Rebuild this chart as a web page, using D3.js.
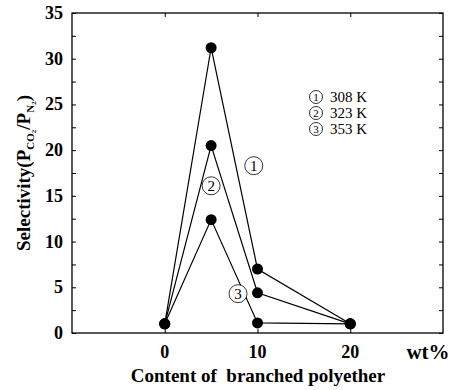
<!DOCTYPE html>
<html>
<head>
<meta charset="utf-8">
<script src="https://cdn.jsdelivr.net/npm/d3@7"></script>
<style>
body { margin: 0; background: #fff; }
</style>
</head>
<body>
<div id="chart"></div>
<script>
let width = 460;
let height = 390;
let margin = { top: 13, right: 17, bottom: 57, left: 72 };

let content = [0, 5, 10, 20];
let sel308 = [1.0, 31.2, 7.0, 1.0];
let sel323 = [1.0, 20.5, 4.4, 1.0];
let sel353 = [1.0, 12.4, 1.1, 1.0];
let seriesNums = ["1", "2", "3"];
let temps = ["308 K", "323 K", "353 K"];
let xTicks = [0, 10, 20];
let yTicks = [0, 5, 10, 15, 20, 25, 30, 35];

let serif = "Times New Roman";

let svg = d3.select("#chart").append("svg")
    .attr("width", width)
    .attr("height", height);

let x = d3.scaleLinear().domain([-10, 30]).range([margin.left, width - margin.right]);
let y = d3.scaleLinear().domain([0, 35]).range([height - margin.bottom, margin.top]);

// frame
svg.append("rect")
    .attr("x", x(-10)).attr("y", y(35))
    .attr("width", x(30) - x(-10)).attr("height", y(0) - y(35))
    .attr("fill", "none").attr("stroke", "#000").attr("stroke-width", 1.3);

// inward ticks on all four sides
let yMinor = d3.range(0, 35.1, 2.5);
svg.append("g")
    .attr("transform", `translate(${x(-10)},0)`)
    .call(d3.axisRight(y).tickValues(yMinor).tickSize(4).tickFormat(""))
    .call(g => g.select(".domain").remove());
svg.append("g")
    .attr("transform", `translate(${x(30)},0)`)
    .call(d3.axisLeft(y).tickValues(yMinor).tickSize(4).tickFormat(""))
    .call(g => g.select(".domain").remove());
svg.append("g")
    .attr("transform", `translate(0,${y(0)})`)
    .call(d3.axisTop(x).tickValues(xTicks).tickSize(4).tickFormat(""))
    .call(g => g.select(".domain").remove());
svg.append("g")
    .attr("transform", `translate(0,${y(35)})`)
    .call(d3.axisBottom(x).tickValues(xTicks).tickSize(4).tickFormat(""))
    .call(g => g.select(".domain").remove());

// tick labels
svg.append("g").selectAll("text")
    .data(yTicks).enter().append("text")
    .attr("x", x(-10) - 9)
    .attr("y", d => y(d) + 6)
    .attr("text-anchor", "end")
    .attr("font-family", serif)
    .attr("font-size", 18).attr("font-weight", "bold")
    .text(d => d);
svg.append("g").selectAll("text")
    .data(xTicks).enter().append("text")
    .attr("x", d => x(d))
    .attr("y", y(0) + 25)
    .attr("text-anchor", "middle")
    .attr("font-family", serif)
    .attr("font-size", 18).attr("font-weight", "bold")
    .text(d => d);
svg.append("text")
    .attr("x", 428).attr("y", y(0) + 26)
    .attr("text-anchor", "middle")
    .attr("font-family", serif)
    .attr("font-size", 21).attr("font-weight", "bold")
    .text("wt%");

// axis titles
svg.append("text")
    .attr("x", 258).attr("y", 382)
    .attr("text-anchor", "middle")
    .attr("font-family", serif)
    .attr("font-size", 19).attr("font-weight", "bold")
    .style("white-space", "pre")
    .text("Content of  branched polyether");

let yl = svg.append("text")
    .attr("transform", `translate(30,${(y(0) + y(35)) / 2}) rotate(-90)`)
    .attr("text-anchor", "middle")
    .attr("font-family", serif)
    .attr("font-size", 19).attr("font-weight", "bold");
yl.append("tspan").text("Selectivity(P");
yl.append("tspan").attr("font-size", 11).attr("dy", 4).text("CO");
yl.append("tspan").attr("font-size", 7).attr("dy", 2).text("2");
yl.append("tspan").attr("dy", -6).text("/P");
yl.append("tspan").attr("font-size", 11).attr("dy", 4).text("N");
yl.append("tspan").attr("font-size", 7).attr("dy", 2).text("2");
yl.append("tspan").attr("dy", -6).text(")");

// series
let all = [sel308, sel323, sel353];
let line = d3.line().x((d, i) => x(content[i])).y(d => y(d));
all.forEach((s, k) => {
    svg.append("path")
        .datum(s)
        .attr("d", line)
        .attr("fill", "none")
        .attr("stroke", "#000")
        .attr("stroke-width", 1.2);
    svg.append("g").selectAll("circle")
        .data(s).enter().append("circle")
        .attr("cx", (d, i) => x(content[i]))
        .attr("cy", d => y(d))
        .attr("r", 5.5)
        .attr("fill", "#000");
});

// circled-number marker: ring plus digit text
function circled(g, cx, cy, r, fs, num) {
    g.append("circle")
        .attr("cx", cx).attr("cy", cy).attr("r", r)
        .attr("fill", "#fff").attr("stroke", "#000").attr("stroke-width", 0.8);
    g.append("text")
        .attr("x", cx).attr("y", cy + fs * 0.35)
        .attr("text-anchor", "middle")
        .attr("font-family", serif)
        .attr("font-size", fs)
        .text(num);
}

// series labels
let labelPos = [[9.6, 18.3], [5.0, 16.1], [7.9, 4.3]];
let lbl = svg.append("g");
seriesNums.forEach((n, i) => circled(lbl, x(labelPos[i][0]), y(labelPos[i][1]), 9, 15, n));

// legend
let lg = svg.append("g");
seriesNums.forEach((n, i) => circled(lg, 316, 97 + i * 16, 6.5, 11, n));
lg.selectAll("text.lab")
    .data(temps).enter().append("text")
    .attr("class", "lab")
    .attr("x", 330)
    .attr("y", (d, i) => 102 + i * 16)
    .attr("font-family", serif)
    .attr("font-size", 15)
    .text(d => d);
</script>
</body>
</html>
